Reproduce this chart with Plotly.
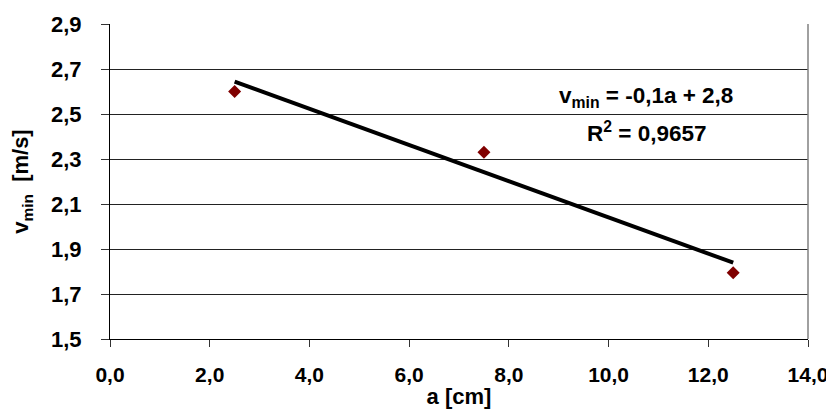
import plotly.graph_objects as go
import numpy as np

# measured values
a_cm = [2.5, 7.5, 12.5]
v_min = [2.60, 2.33, 1.795]

x_ticks = [0, 2, 4, 6, 8, 10, 12, 14]
x_labels = ['0,0', '2,0', '4,0', '6,0', '8,0', '10,0', '12,0', '14,0']
y_ticks = [1.5, 1.7, 1.9, 2.1, 2.3, 2.5, 2.7, 2.9]
y_labels = ['1,5', '1,7', '1,9', '2,1', '2,3', '2,5', '2,7', '2,9']

# linear trend line from the points
slope, icpt = np.polyfit(a_cm, v_min, 1)
trend_x = [min(a_cm), max(a_cm)]
trend_y = [slope * x + icpt for x in trend_x]

fig = go.Figure()
fig.add_trace(go.Scatter(
    x=trend_x, y=trend_y, mode='lines',
    line=dict(color='black', width=4),
    showlegend=False,
))
fig.add_trace(go.Scatter(
    x=a_cm, y=v_min, mode='markers',
    marker=dict(symbol='diamond', color='#800000', size=10),
    showlegend=False,
))

font = dict(family='Liberation Sans, Arial', color='black')

fig.add_annotation(x=10.76, y=2.576, xref='x', yref='y', showarrow=False,
                   text='<b>v<sub>min</sub> = -0,1a + 2,8</b>',
                   font=dict(size=22.5, **font))
fig.add_annotation(x=10.76, y=2.42, xref='x', yref='y', showarrow=False,
                   text='<b>R<sup>2</sup> = 0,9657</b>',
                   font=dict(size=22.5, **font))

# page body adds 8px, so figure is a bit smaller than the window
fig.update_layout(
    width=826, height=404,
    margin=dict(l=102, r=26, t=16, b=73),
    plot_bgcolor='white', paper_bgcolor='white',
    font=font,
)
fig.update_xaxes(
    range=[0, 14], tickvals=x_ticks, ticktext=['<b>%s</b>' % t for t in x_labels],
    ticks='outside', ticklen=7, tickcolor='#333333',
    tickfont=dict(size=21, **font), ticklabelstandoff=10,
    showgrid=False, zeroline=False, automargin=False,
    showline=True, linecolor='black', linewidth=1,
    title=dict(text='<b>a [cm]</b>', font=dict(size=22, **font), standoff=3),
)
fig.update_yaxes(
    range=[1.5, 2.9], tickvals=y_ticks, ticktext=['<b>%s</b>' % t for t in y_labels],
    ticks='outside', ticklen=8, tickcolor='#333333',
    tickfont=dict(size=22, **font), ticklabelstandoff=15,
    showgrid=True, gridcolor='#222222', gridwidth=1, zeroline=False, automargin=False,
    showline=True, linecolor='black', linewidth=1,
    title=dict(text='<b>v<sub>min</sub>  [m/s]</b>', font=dict(size=22, **font), standoff=18),
)
# right border of the plot area
fig.add_shape(type='line', xref='paper', yref='paper', x0=1, x1=1, y0=0, y1=1,
              line=dict(color='gray', width=1.5))

fig.write_html('out.html')
